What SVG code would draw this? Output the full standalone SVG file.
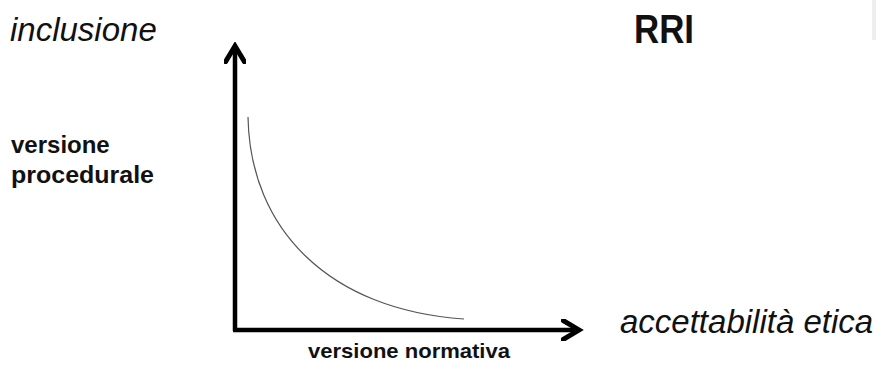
<svg xmlns="http://www.w3.org/2000/svg" width="876" height="365" viewBox="0 0 876 365">
<style>
.it{font-family:"Liberation Sans",Arial,sans-serif;font-style:italic;font-size:33px;fill:#111}
.bd{font-family:"Liberation Sans",Arial,sans-serif;font-weight:bold;fill:#111}
.ax{stroke:#000;stroke-width:4.5;fill:none}
</style>
<defs>
<marker id="ah" viewBox="0 0 10 10" refX="8" refY="5" markerWidth="5" markerHeight="5" orient="auto" markerUnits="strokeWidth">
<path d="M1,0.8 L8,5 L1,9.2" fill="none" stroke="#000" stroke-width="2.2" stroke-linejoin="miter" stroke-linecap="round"/>
</marker>
</defs>
<rect width="876" height="365" fill="#fff"/>
<rect x="872" y="0" width="4" height="40" fill="#eeeeee"/>
<g id="connectors">
<path class="ax" d="M235,331 L235,46" marker-end="url(#ah)"/>
<path class="ax" d="M233,330 L579,330" marker-end="url(#ah)"/>
<path d="M248,117 C250,230 330,310 464,319" fill="none" stroke="#555" stroke-width="1.2"/>
</g>
<g id="title"><text class="bd" x="634" y="43" font-size="41" textLength="60" lengthAdjust="spacingAndGlyphs">RRI</text></g>
<g id="y-label"><text class="it" x="10" y="41">inclusione</text></g>
<g id="x-label"><text class="it" x="620" y="333">accettabilità etica</text></g>
<g id="procedurale"><text class="bd" x="11" y="153" font-size="24">versione</text><text class="bd" x="11" y="183" font-size="24" textLength="143" lengthAdjust="spacingAndGlyphs">procedurale</text></g>
<g id="normativa"><text class="bd" x="308" y="358" font-size="21" textLength="202" lengthAdjust="spacingAndGlyphs">versione normativa</text></g>
</svg>
